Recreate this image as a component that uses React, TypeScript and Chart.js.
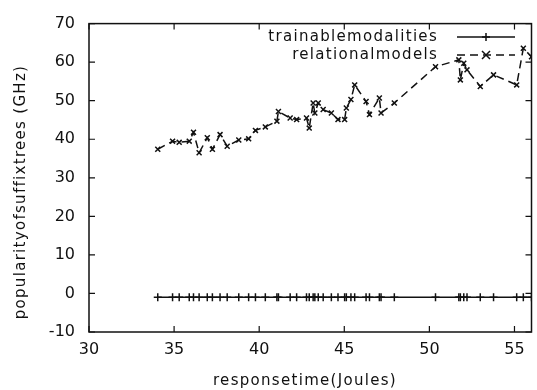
import React, { useEffect, useRef } from "react";
import { Chart, registerables } from "chart.js";

Chart.register(...registerables);

const xValues = [34.04, 34.91, 35.3, 35.89, 36.14, 36.47, 36.95, 37.25, 37.7, 38.12, 38.8, 39.38, 39.78, 40.36, 41.04, 41.13, 41.82, 42.2, 42.78, 42.94, 43.17, 43.27, 43.47, 43.76, 44.24, 44.63, 45.02, 45.12, 45.39, 45.61, 46.28, 46.48, 47.06, 47.16, 47.94, 50.36, 51.73, 51.82, 52.02, 52.21, 52.99, 53.77, 55.13, 55.52, 56.0];
const relationalModels = [37.4, 39.5, 39.2, 39.5, 41.8, 36.5, 40.4, 37.4, 41.2, 38.2, 39.8, 40.1, 42.3, 43.2, 44.7, 47.2, 45.5, 45.1, 45.5, 42.9, 49.4, 46.8, 49.4, 47.7, 46.8, 45.1, 45.1, 48.1, 50.3, 54.1, 49.8, 46.4, 50.7, 46.8, 49.4, 58.8, 60.6, 55.4, 59.7, 58.0, 53.7, 56.7, 54.1, 63.6, 61.4];
const trainableModalities = [-1, -1, -1, -1, -1, -1, -1, -1, -1, -1, -1, -1, -1, -1, -1, -1, -1, -1, -1, -1, -1, -1, -1, -1, -1, -1, -1, -1, -1, -1, -1, -1, -1, -1, -1, -1, -1, -1, -1, -1, -1, -1, -1, -1, -1];
const seriesNames = ["trainablemodalities", "relationalmodels"];
const xTitle = "responsetime(Joules)";
const yTitle = "popularityofsuffixtrees (GHz)";

const INK = "#111111";
const TEXT_FONT = '15px "DejaVu Sans"';

function drawCross(ctx: CanvasRenderingContext2D, x: number, y: number, r: number, rot: boolean) {
  ctx.beginPath();
  if (rot) {
    ctx.moveTo(x - r, y - r); ctx.lineTo(x + r, y + r);
    ctx.moveTo(x - r, y + r); ctx.lineTo(x + r, y - r);
  } else {
    ctx.moveTo(x - r, y); ctx.lineTo(x + r, y);
    ctx.moveTo(x, y - r); ctx.lineTo(x, y + r);
  }
  ctx.stroke();
}

const framePlugin = {
  id: "frame",
  afterDatasetsDraw(chart: any) {
    const { ctx, chartArea: a, scales } = chart;
    ctx.save();
    ctx.strokeStyle = INK;
    ctx.lineWidth = 1.5;
    ctx.setLineDash([]);
    ctx.strokeRect(a.left, a.top, a.right - a.left, a.bottom - a.top);
    ctx.lineWidth = 1.2;
    const tl = 6;
    ctx.beginPath();
    scales.x.ticks.forEach((t: any) => {
      const px = scales.x.getPixelForValue(t.value);
      ctx.moveTo(px, a.bottom); ctx.lineTo(px, a.bottom - tl);
      ctx.moveTo(px, a.top); ctx.lineTo(px, a.top + tl);
    });
    scales.y.ticks.forEach((t: any) => {
      const py = scales.y.getPixelForValue(t.value);
      ctx.moveTo(a.left, py); ctx.lineTo(a.left + tl, py);
      ctx.moveTo(a.right, py); ctx.lineTo(a.right - tl, py);
    });
    ctx.stroke();

    // legend
    ctx.font = TEXT_FONT;
    (ctx as any).letterSpacing = "1.3px";
    ctx.fillStyle = INK;
    ctx.textAlign = "right";
    ctx.textBaseline = "middle";
    const rows = [37, 55];
    seriesNames.forEach((name, i) => {
      ctx.fillText(name, 438, rows[i]);
      ctx.lineWidth = 1.5;
      ctx.setLineDash(i === 1 ? [8, 5] : []);
      ctx.beginPath();
      ctx.moveTo(457, rows[i]); ctx.lineTo(515, rows[i]);
      ctx.stroke();
      ctx.setLineDash([]);
      ctx.lineWidth = 1.5;
      drawCross(ctx, 486, rows[i], 4, i === 1);
    });

    // axis titles
    ctx.textAlign = "center";
    ctx.fillText(xTitle, 305, 381);
    ctx.translate(21, 192);
    ctx.rotate(-Math.PI / 2);
    ctx.fillText(yTitle, 0, 0);
    ctx.restore();
  },
};

export default function App() {
  const ref = useRef<HTMLCanvasElement>(null);
  useEffect(() => {
    document.body.style.margin = "0";
    const chart = new Chart(ref.current!, {
      type: "line",
      data: {
        datasets: [
          {
            label: seriesNames[0],
            data: xValues.map((x, i) => ({ x, y: trainableModalities[i] })),
            borderColor: INK,
            backgroundColor: INK,
            borderWidth: 1.5,
            pointStyle: "cross",
            pointRadius: 4,
            pointBorderWidth: 1.5,
            pointBorderColor: INK,
            tension: 0,
            fill: false,
          },
          {
            label: seriesNames[1],
            data: xValues.map((x, i) => ({ x, y: relationalModels[i] })),
            borderColor: INK,
            backgroundColor: INK,
            borderWidth: 1.5,
            borderDash: [8, 5],
            pointStyle: "crossRot",
            pointRadius: 3.5,
            pointBorderWidth: 1.5,
            pointBorderColor: INK,
            tension: 0,
            fill: false,
          },
        ],
      },
      options: {
        animation: false,
        responsive: false,
        events: [],
        layout: { padding: { top: 21, right: 2, left: 0, bottom: 0 } },
        plugins: { legend: { display: false }, tooltip: { enabled: false }, title: { display: false } },
        scales: {
          x: {
            type: "linear",
            min: 30,
            max: 56,
            grid: { display: false, drawTicks: false },
            border: { display: false },
            ticks: {
              stepSize: 5,
              includeBounds: false,
              padding: 8,
              color: INK,
              font: { family: '"DejaVu Sans"', size: 16 },
              maxRotation: 0,
            },
            afterBuildTicks: (s: any) => { s.ticks = s.ticks.filter((t: any) => t.value % 5 === 0); },
            afterFit: (s: any) => { s.height = 58; },
          },
          y: {
            type: "linear",
            min: -10,
            max: 70,
            grid: { display: false, drawTicks: false },
            border: { display: false },
            ticks: {
              stepSize: 10,
              padding: 14,
              color: INK,
              font: { family: '"DejaVu Sans"', size: 16 },
            },
            afterFit: (s: any) => { s.width = 89; },
          },
        },
      },
      plugins: [framePlugin],
    });
    return () => chart.destroy();
  }, []);
  return (
    <div style={{ width: 537, height: 390 }}>
      <canvas ref={ref} width={537} height={390} style={{ display: "block" }} />
    </div>
  );
}
